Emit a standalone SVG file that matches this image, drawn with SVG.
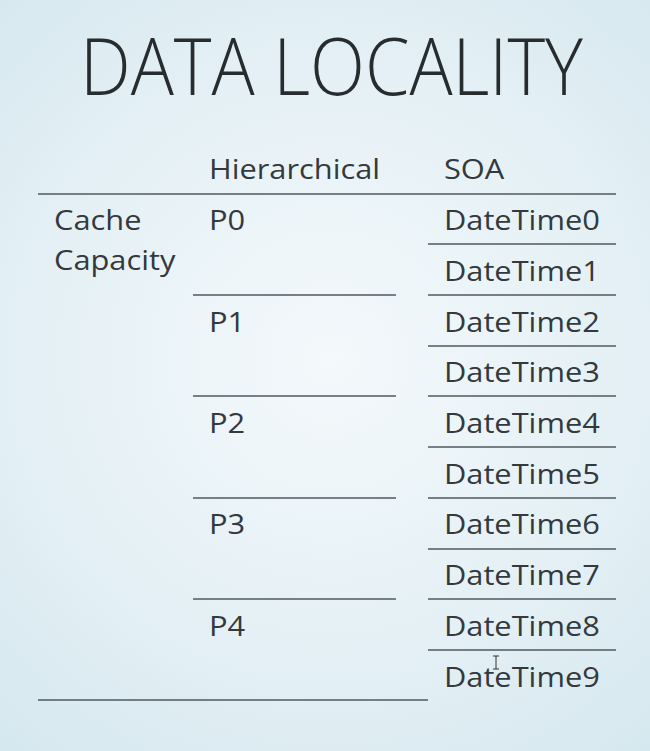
<svg xmlns="http://www.w3.org/2000/svg" width="650" height="751" viewBox="0 0 650 751">
<defs>
<radialGradient id="bg" cx="330" cy="360" r="500" gradientUnits="userSpaceOnUse">
<stop offset="0" stop-color="#f4f9fb"/>
<stop offset="0.6" stop-color="#e4f0f5"/>
<stop offset="1" stop-color="#d6e8ef"/>
</radialGradient>
<style>
.t{font-family:"Open Sans","DejaVu Sans",sans-serif;font-size:28px;fill:#33393c}
.title{font-family:"Open Sans","DejaVu Sans",sans-serif;font-weight:300;font-size:80px;fill:#272c2f}
.ln{stroke:#4f5a5e;stroke-width:1.5;fill:none}
</style>
</defs>
<rect width="650" height="751" fill="url(#bg)"/>
<text class="title" x="80" y="95" textLength="503" lengthAdjust="spacingAndGlyphs">DATA LOCALITY</text>
<g id="connectors">
<line class="ln" x1="38" y1="194" x2="616" y2="194"/>
<line class="ln" x1="428" y1="244" x2="616" y2="244"/>
<line class="ln" x1="428" y1="295" x2="616" y2="295"/>
<line class="ln" x1="428" y1="346" x2="616" y2="346"/>
<line class="ln" x1="428" y1="396" x2="616" y2="396"/>
<line class="ln" x1="428" y1="447" x2="616" y2="447"/>
<line class="ln" x1="428" y1="498" x2="616" y2="498"/>
<line class="ln" x1="428" y1="549" x2="616" y2="549"/>
<line class="ln" x1="428" y1="599" x2="616" y2="599"/>
<line class="ln" x1="428" y1="650" x2="616" y2="650"/>
<line class="ln" x1="193" y1="295" x2="396" y2="295"/>
<line class="ln" x1="193" y1="396" x2="396" y2="396"/>
<line class="ln" x1="193" y1="498" x2="396" y2="498"/>
<line class="ln" x1="193" y1="599" x2="396" y2="599"/>
<line class="ln" x1="38" y1="700" x2="428" y2="700"/>
</g>
<g transform="scale(1.1,1)">
<g id="header">
<text class="t" x="190" y="179">Hierarchical</text>
<text class="t" x="403.6" y="179">SOA</text>
</g>
<g id="cache">
<text class="t" x="49.1" y="230">Cache</text>
<text class="t" x="49.1" y="270">Capacity</text>
</g>
<g id="hier">
<text class="t" x="190" y="230">P0</text>
<text class="t" x="190" y="332">P1</text>
<text class="t" x="190" y="433">P2</text>
<text class="t" x="190" y="534">P3</text>
<text class="t" x="190" y="636">P4</text>
</g>
<g id="soa">
<text class="t" x="403.6" y="230">DateTime0</text>
<text class="t" x="403.6" y="281">DateTime1</text>
<text class="t" x="403.6" y="332">DateTime2</text>
<text class="t" x="403.6" y="382">DateTime3</text>
<text class="t" x="403.6" y="433">DateTime4</text>
<text class="t" x="403.6" y="484">DateTime5</text>
<text class="t" x="403.6" y="534">DateTime6</text>
<text class="t" x="403.6" y="585">DateTime7</text>
<text class="t" x="403.6" y="636">DateTime8</text>
<text class="t" x="403.6" y="687">DateTime9</text>
</g>
</g>
<path d="M493 656h6M496 656v13M493 669h6" stroke="#333" stroke-width="1" fill="none"/>
</svg>
